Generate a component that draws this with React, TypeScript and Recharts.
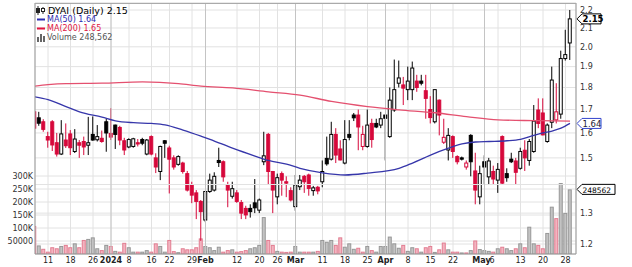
import React from 'react'
import { ComposedChart, Bar, Line, XAxis, YAxis, CartesianGrid, ReferenceLine } from 'recharts'

// trading days, Dec 6 2023 .. May 29 2024
const dates = [
  '12-06', '12-07', '12-08', '12-11', '12-12', '12-13', '12-14', '12-15', '12-18', '12-19', '12-20', '12-21', '12-22', '12-26', '12-27', '12-28', '12-29',
  '01-02', '01-03', '01-04', '01-05', '01-08', '01-09', '01-10', '01-11', '01-12', '01-16', '01-17', '01-18', '01-19', '01-22', '01-23', '01-24', '01-25', '01-26', '01-29', '01-30', '01-31',
  '02-01', '02-02', '02-05', '02-06', '02-07', '02-08', '02-09', '02-12', '02-13', '02-14', '02-15', '02-16', '02-20', '02-21', '02-22', '02-23', '02-26', '02-27', '02-28', '02-29',
  '03-01', '03-04', '03-05', '03-06', '03-07', '03-08', '03-11', '03-12', '03-13', '03-14', '03-15', '03-18', '03-19', '03-20', '03-21', '03-22', '03-25', '03-26', '03-27', '03-28',
  '04-01', '04-02', '04-03', '04-04', '04-05', '04-08', '04-09', '04-10', '04-11', '04-12', '04-15', '04-16', '04-17', '04-18', '04-19', '04-22', '04-23', '04-24', '04-25', '04-26', '04-29', '04-30',
  '05-01', '05-02', '05-03', '05-06', '05-07', '05-08', '05-09', '05-10', '05-13', '05-14', '05-15', '05-16', '05-17', '05-20', '05-21', '05-22', '05-23', '05-24', '05-28', '05-29',
]

const opens = [
  1.69, 1.664, 1.647, 1.585, 1.647, 1.56, 1.515, 1.571, 1.596, 1.525, 1.56, 1.565, 1.55, 1.594, 1.572, 1.578, 1.647,
  1.598, 1.633, 1.623, 1.568, 1.543, 1.545, 1.56, 1.573, 1.515, 1.585, 1.5, 1.448, 1.568, 1.539, 1.5, 1.475, 1.48, 1.44, 1.398, 1.37, 1.34,
  1.277, 1.375, 1.38, 1.49, 1.485, 1.398, 1.358, 1.37, 1.336, 1.316, 1.316, 1.335, 1.31, 1.485, 1.594, 1.448, 1.356, 1.44, 1.41, 1.378,
  1.322, 1.392, 1.43, 1.435, 1.378, 1.39, 1.41, 1.498, 1.495, 1.594, 1.535, 1.48, 1.594, 1.676, 1.676, 1.545, 1.545, 1.64, 1.64, 1.633,
  1.676, 1.585, 1.698, 1.82, 1.812, 1.79, 1.79, 1.83, 1.83, 1.785, 1.7, 1.647, 1.742, 1.562, 1.531, 1.585, 1.505, 1.5, 1.465, 1.59, 1.45, 1.356,
  1.485, 1.428, 1.448, 1.416, 1.585, 1.44, 1.495, 1.488, 1.46, 1.53, 1.49, 1.525, 1.698, 1.685, 1.565, 1.645, 1.655, 1.68, 1.94, 2.02,
]
const highs = [
  1.7, 1.69, 1.658, 1.605, 1.654, 1.6, 1.654, 1.64, 1.612, 1.616, 1.571, 1.585, 1.668, 1.67, 1.633, 1.61, 1.66,
  1.706, 1.635, 1.63, 1.58, 1.578, 1.58, 1.575, 1.58, 1.575, 1.59, 1.518, 1.548, 1.571, 1.548, 1.51, 1.51, 1.485, 1.45, 1.41, 1.38, 1.345,
  1.375, 1.44, 1.445, 1.54, 1.49, 1.41, 1.41, 1.38, 1.345, 1.325, 1.33, 1.42, 1.35, 1.605, 1.6, 1.45, 1.44, 1.448, 1.43, 1.39,
  1.435, 1.435, 1.435, 1.44, 1.395, 1.395, 1.49, 1.585, 1.647, 1.62, 1.57, 1.654, 1.654, 1.685, 1.7, 1.63, 1.7, 1.66, 1.66, 1.69,
  1.676, 1.8, 1.935, 1.93, 1.85, 1.9, 1.925, 1.86, 1.86, 1.86, 1.76, 1.79, 1.745, 1.66, 1.62, 1.59, 1.51, 1.505, 1.49, 1.595, 1.52, 1.47,
  1.51, 1.5, 1.47, 1.48, 1.59, 1.46, 1.52, 1.5, 1.54, 1.57, 1.575, 1.72, 1.75, 1.75, 1.64, 1.9, 1.82, 1.98, 2.09, 2.2,
]
const lows = [
  1.6, 1.63, 1.605, 1.54, 1.527, 1.505, 1.511, 1.539, 1.511, 1.519, 1.5, 1.511, 1.511, 1.568, 1.565, 1.56, 1.524,
  1.571, 1.535, 1.55, 1.511, 1.538, 1.54, 1.545, 1.55, 1.51, 1.51, 1.442, 1.416, 1.5, 1.368, 1.455, 1.47, 1.44, 1.375, 1.334, 1.28, 1.21,
  1.27, 1.37, 1.375, 1.465, 1.41, 1.32, 1.35, 1.335, 1.28, 1.28, 1.285, 1.3, 1.3, 1.472, 1.4, 1.3, 1.33, 1.36, 1.355, 1.34,
  1.308, 1.38, 1.37, 1.36, 1.36, 1.365, 1.39, 1.47, 1.49, 1.48, 1.49, 1.475, 1.57, 1.65, 1.53, 1.53, 1.54, 1.54, 1.62, 1.62,
  1.49, 1.58, 1.69, 1.8, 1.72, 1.742, 1.742, 1.78, 1.81, 1.66, 1.64, 1.64, 1.59, 1.555, 1.49, 1.5, 1.475, 1.49, 1.455, 1.43, 1.33, 1.33,
  1.4, 1.4, 1.4, 1.37, 1.4, 1.41, 1.48, 1.4, 1.455, 1.45, 1.47, 1.52, 1.62, 1.59, 1.56, 1.62, 1.64, 1.66, 1.93, 1.933,
]
const closes = [
  1.62, 1.641, 1.615, 1.571, 1.551, 1.515, 1.596, 1.548, 1.54, 1.575, 1.55, 1.543, 1.56, 1.571, 1.585, 1.565, 1.6,
  1.583, 1.594, 1.571, 1.531, 1.573, 1.576, 1.555, 1.558, 1.571, 1.515, 1.465, 1.545, 1.558, 1.495, 1.465, 1.505, 1.448, 1.38, 1.362, 1.34, 1.305,
  1.375, 1.416, 1.43, 1.482, 1.428, 1.38, 1.385, 1.34, 1.3, 1.294, 1.305, 1.318, 1.345, 1.508, 1.448, 1.38, 1.425, 1.416, 1.405, 1.345,
  1.398, 1.416, 1.41, 1.386, 1.388, 1.377, 1.448, 1.477, 1.594, 1.511, 1.492, 1.573, 1.582, 1.664, 1.625, 1.594, 1.633, 1.573, 1.625, 1.66,
  1.662, 1.742, 1.79, 1.845, 1.797, 1.83, 1.893, 1.8, 1.82, 1.75, 1.665, 1.79, 1.676, 1.582, 1.59, 1.525, 1.485, 1.495, 1.48, 1.485, 1.38, 1.44,
  1.465, 1.488, 1.42, 1.456, 1.405, 1.425, 1.485, 1.445, 1.525, 1.5, 1.565, 1.65, 1.64, 1.592, 1.633, 1.835, 1.69, 1.94, 1.96, 2.15,
]
// thousands of shares
const volumes = [
  108, 33, 20, 9, 26, 22, 31, 35, 26, 41, 26, 54, 58, 64, 22, 15, 35,
  31, 12, 9, 43, 26, 9, 9, 9, 15, 9, 41, 31, 9, 54, 11, 7, 22, 18, 18, 26, 60,
  31, 26, 15, 28, 9, 15, 18, 9, 11, 15, 22, 26, 35, 142, 54, 35, 12, 9, 8, 9,
  31, 9, 9, 9, 9, 12, 54, 47, 54, 35, 64, 28, 41, 20, 24, 9, 31, 15, 9, 31,
  31, 67, 41, 24, 35, 12, 26, 22, 9, 26, 31, 8, 18, 44, 18, 9, 9, 6, 6, 15, 52, 19,
  15, 12, 9, 22, 28, 22, 15, 22, 41, 26, 105, 41, 35, 22, 81, 182, 138, 273, 158, 248.562,
]

const ma50Dates = ['12-06', '12-11', '12-15', '12-20', '12-28', '01-03', '01-09', '01-16', '01-19', '01-25', '01-31', '02-02', '02-09', '02-16', '02-22', '02-28', '03-04', '03-11', '03-18', '03-25', '04-04', '04-09', '04-15', '04-19', '04-24', '04-29', '05-02', '05-08', '05-13', '05-16', '05-20', '05-22', '05-24', '05-29']
const ma50Values = [1.757, 1.744, 1.713, 1.69, 1.667, 1.651, 1.643, 1.64, 1.634, 1.612, 1.587, 1.574, 1.538, 1.507, 1.49, 1.476, 1.46, 1.443, 1.435, 1.442, 1.46, 1.48, 1.511, 1.538, 1.555, 1.563, 1.565, 1.568, 1.574, 1.59, 1.6, 1.608, 1.62, 1.64]
const ma200Dates = ['12-06', '12-11', '12-15', '12-28', '01-11', '01-24', '01-31', '02-09', '02-22', '03-04', '03-13', '03-25', '04-04', '04-16', '04-25', '05-06', '05-16', '05-29']
const ma200Values = [1.806, 1.813, 1.818, 1.82, 1.826, 1.818, 1.806, 1.798, 1.78, 1.765, 1.736, 1.713, 1.699, 1.686, 1.669, 1.655, 1.652, 1.65]

const tickDates = ['12-11', '12-18', '12-26', '01-02', '01-08', '01-16', '01-22', '01-29', '02-01', '02-12', '02-20', '02-26', '03-01', '03-11', '03-18', '03-25', '04-01', '04-08', '04-15', '04-22', '05-01', '05-06', '05-13', '05-20', '05-28']
const tickLabels = ['11', '18', '26', '2024', '8', '16', '22', '29', 'Feb', '12', '20', '26', 'Mar', '11', '18', '25', 'Apr', '8', '15', '22', 'May', '6', '13', '20', '28']
const monthLabels = ['2024', 'Feb', 'Mar', 'Apr', 'May']

// 1.4 sits under the volume tag, so it only gets a grid line
const priceTicks = [1.2, 1.3, 1.5, 1.6, 1.7, 1.8, 1.9, 2.0, 2.1, 2.2]
const hiddenPriceGrid = [1.4]
const volumeTicks = [50, 100, 150, 200, 250, 300]

const RED = '#d6083b'
const FONT = 'DejaVu Sans'

const candles = dates.map((d, k) => ({
  k,
  date: d,
  open: opens[k],
  high: highs[k],
  low: lows[k],
  close: closes[k],
  vol: volumes[k],
  up: k === 0 ? closes[k] >= opens[k] : closes[k] >= closes[k - 1],
}))
const ma50 = ma50Dates.map((d, j) => ({ k: dates.indexOf(d), v: ma50Values[j] }))
const ma200 = ma200Dates.map((d, j) => ({ k: dates.indexOf(d), v: ma200Values[j] }))
const tickKs = tickDates.map(d => dates.indexOf(d))
const monthKs = tickKs.filter((_, j) => monthLabels.includes(tickLabels[j]))

const last = candles[candles.length - 1]

function Candle(props: any) {
  const { x, y, width, height, payload } = props
  if (!payload || height == null || isNaN(y)) return null
  const { open, high, low, close, up } = payload
  const lh = Math.log(high)
  const span = lh - Math.log(low)
  const yAt = (v: number) => y + (height * (lh - Math.log(v))) / span
  const color = up ? '#000' : RED
  const cx = x + width / 2
  const top = yAt(Math.max(open, close))
  const bot = yAt(Math.min(open, close))
  return (
    <g>
      <line x1={cx} x2={cx} y1={y} y2={y + height} stroke={color} />
      <rect x={cx - 1.5} y={top} width={3} height={Math.max(bot - top, 1)} fill={close > open ? '#fff' : color} stroke={color} />
    </g>
  )
}

function VolBar(props: any) {
  const { x, y, width, height, payload } = props
  if (!payload || !height) return null
  return (
    <rect x={x + 0.5} y={y + 0.5} width={width - 1} height={Math.max(height - 0.5, 0)}
      fill={payload.up ? '#c3c3c3' : '#f2b4c0'} stroke={payload.up ? '#979797' : '#e27d91'} />
  )
}

function Tag(props: any) {
  const { viewBox, txt, color, textColor, w, bold, size } = props
  if (!viewBox) return null
  const x0 = viewBox.x + viewBox.width + 1
  const cy = viewBox.y
  const h = 10
  const pts = `${x0},${cy} ${x0 + 5},${cy - h / 2} ${x0 + w},${cy - h / 2} ${x0 + w},${cy + h / 2} ${x0 + 5},${cy + h / 2}`
  return (
    <g>
      <polygon points={pts} fill="#fff" stroke={color} />
      <text x={x0 + 5.5} y={cy + 3.2} fontSize={size} fontWeight={bold ? 'bold' : 'normal'} fill={textColor} fontFamily={FONT}>{txt}</text>
    </g>
  )
}

function DateTick({ x, y, payload }: any) {
  const label = tickLabels[tickKs.indexOf(payload.value)]
  const bold = monthLabels.includes(label)
  const shift = label === 'May' ? -3 : label === '6' ? -6 : 0
  return (
    <text x={x + shift} y={y + 9} textAnchor="middle" fontSize={8} fontWeight={bold ? 'bold' : 'normal'} fill="#222" fontFamily={FONT}>
      {label}
    </text>
  )
}

const axisTick = { fontSize: 8, fill: '#333', fontFamily: FONT }

export default function App() {
  return (
    <div style={{ position: 'absolute', left: 0, top: 0, width: 632, height: 267, background: '#fff' }}>
      <ComposedChart width={632} height={267} data={candles} margin={{ top: 3, right: 0, bottom: 0, left: 0 }}>
        <XAxis xAxisId="c" dataKey="k" type="number" domain={[0.11, 120.33]} allowDataOverflow ticks={tickKs} interval={0}
          tick={<DateTick />} tickLine={false} tickSize={0} tickMargin={0} height={13} axisLine={{ stroke: '#999' }} />
        <XAxis xAxisId="v" dataKey="k" type="number" domain={[0.11, 120.33]} allowDataOverflow ticks={tickKs} hide />
        <YAxis yAxisId="vol" orientation="left" width={35} domain={[0, 965.4]} allowDataOverflow ticks={volumeTicks} interval={0}
          tickFormatter={v => (v === 50 ? '50000' : `${v}K`)} tick={axisTick} tickLine={false} tickSize={0} tickMargin={2} axisLine={{ stroke: '#999' }} />
        <YAxis yAxisId="price" orientation="right" width={56} scale="log" domain={[1.1694, 2.2403]} allowDataOverflow ticks={priceTicks} interval={0}
          tickFormatter={v => Number(v).toFixed(1)} tick={{ ...axisTick, textAnchor: 'start' }} tickLine={false} tickSize={0} tickMargin={4} axisLine={{ stroke: '#999' }} />
        <CartesianGrid xAxisId="c" yAxisId="price" stroke="#e2e2e2" />
        <CartesianGrid xAxisId="c" yAxisId="vol" vertical={false} stroke="#e2e2e2" />
        {hiddenPriceGrid.map(p => (
          <ReferenceLine key={p} xAxisId="c" yAxisId="price" y={p} stroke="#e2e2e2" />
        ))}
        {monthKs.map(k => (
          <ReferenceLine key={k} xAxisId="c" yAxisId="price" x={k} stroke="#c4c4c4" />
        ))}
        <Bar xAxisId="v" yAxisId="vol" dataKey="vol" barSize={4} shape={<VolBar />} isAnimationActive={false} />
        <Line xAxisId="c" yAxisId="price" data={ma200} dataKey="v" type="monotone" stroke="#e4506f" strokeWidth={1.3} dot={false} isAnimationActive={false} />
        <Line xAxisId="c" yAxisId="price" data={ma50} dataKey="v" type="monotone" stroke="#3636aa" strokeWidth={1.3} dot={false} isAnimationActive={false} />
        <Bar xAxisId="c" yAxisId="price" dataKey={(d: any) => [d.low, d.high]} barSize={4} shape={<Candle />} isAnimationActive={false} />
        <ReferenceLine xAxisId="c" yAxisId="vol" y={last.vol} stroke="none"
          label={<Tag txt={String(Math.round(last.vol * 1000))} color="#000" textColor="#000" w={38} size={7.5} />} />
        <ReferenceLine xAxisId="c" yAxisId="price" y={ma50Values[ma50Values.length - 1]} stroke="none"
          label={<Tag txt={ma50Values[ma50Values.length - 1].toFixed(2)} color="#3344cc" textColor="#223" w={24} size={8.5} />} />
        <ReferenceLine xAxisId="c" yAxisId="price" y={last.close} stroke="none"
          label={<Tag txt={last.close.toFixed(2)} color="#000" textColor="#000" w={24} size={8.5} bold />} />
      </ComposedChart>

      <div style={{ position: 'absolute', left: 35, top: 3, width: 541, height: 263, borderTop: '1px solid #aaa', borderBottom: '1px solid #aaa', pointerEvents: 'none' }} />

      <div style={{ position: 'absolute', left: 36, top: 5, fontFamily: FONT, pointerEvents: 'none', whiteSpace: 'nowrap' }}>
        <div style={{ height: 10, fontSize: 9.5, color: '#000', display: 'flex', alignItems: 'center' }}>
          <svg width={11} height={9} style={{ marginRight: 1 }}>
            <line x1={2} x2={2} y1={0} y2={9} stroke="#222" />
            <rect x={0.5} y={2.5} width={3} height={4} fill="#222" stroke="#222" />
            <line x1={7} x2={7} y1={1} y2={8} stroke="#222" />
            <rect x={5.5} y={2.5} width={3} height={3} fill="#fff" stroke="#222" />
          </svg>
          DYAI (Daily) {last.close.toFixed(2)}
        </div>
        <div style={{ height: 9, fontSize: 8, color: '#2b2bb0', display: 'flex', alignItems: 'center' }}>
          <svg width={10} height={9} style={{ marginRight: 1 }}><line x1={1} x2={9} y1={4.5} y2={4.5} stroke="#2b2bb0" strokeWidth={2} /></svg>
          MA(50) {ma50Values[ma50Values.length - 1].toFixed(2)}
        </div>
        <div style={{ height: 9, fontSize: 8, color: '#e0143f', display: 'flex', alignItems: 'center' }}>
          <svg width={10} height={9} style={{ marginRight: 1 }}><line x1={1} x2={9} y1={4.5} y2={4.5} stroke="#e0143f" strokeWidth={2} /></svg>
          MA(200) {ma200Values[ma200Values.length - 1].toFixed(2)}
        </div>
        <div style={{ height: 9, fontSize: 8, color: '#555', display: 'flex', alignItems: 'center' }}>
          <svg width={10} height={9} style={{ marginRight: 1 }}>
            <rect x={1} y={4} width={2} height={5} fill="#666" />
            <rect x={4} y={1} width={2} height={8} fill="#666" />
            <rect x={7} y={3} width={2} height={6} fill="#666" />
          </svg>
          Volume {Math.round(last.vol * 1000).toLocaleString('en-US')}
        </div>
      </div>
    </div>
  )
}
